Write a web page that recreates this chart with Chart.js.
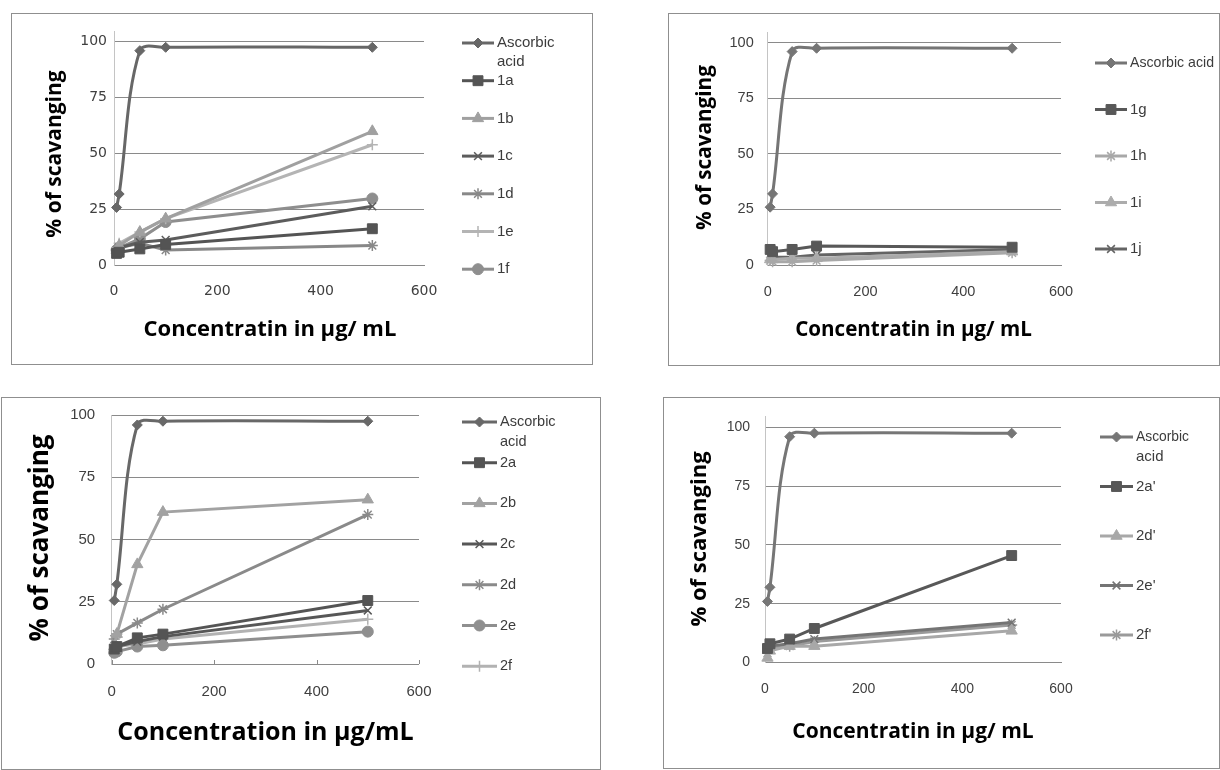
<!DOCTYPE html>
<html>
<head>
<meta charset="utf-8">
<title>% of scavanging</title>
<script src="https://cdn.jsdelivr.net/npm/chart.js@4.4.1/dist/chart.umd.min.js"></script>
<style>
  html, body { margin: 0; padding: 0; background: #fff; }
  body { width: 1220px; height: 770px; position: relative; overflow: hidden; }
  .frame { position: absolute; border: 1px solid #8f8f8f; box-sizing: border-box; }
  canvas.layer { position: absolute; left: 0; top: 0; }
</style>
</head>
<body>
<div class="frame" style="left:11px;top:13px;width:582px;height:352px"></div>
<div class="frame" style="left:668px;top:13px;width:552px;height:353px"></div>
<div class="frame" style="left:1px;top:397px;width:600px;height:373px"></div>
<div class="frame" style="left:663px;top:397px;width:557px;height:372px"></div>

<canvas class="layer" id="chart1" width="1220" height="770"></canvas>
<canvas class="layer" id="chart2" width="1220" height="770"></canvas>
<canvas class="layer" id="chart3" width="1220" height="770"></canvas>
<canvas class="layer" id="chart4" width="1220" height="770"></canvas>

<script>
// ----------------- Data ----------------
const concentrations = [5, 10, 50, 100, 500];
const yTickValues = [0, 25, 50, 75, 100];
const xTickValues = [0, 200, 400, 600];

// top-left
const names1 = ["Ascorbic acid", "1a", "1b", "1c", "1d", "1e", "1f"];
const ascorbic1 = [26, 32, 96, 97.5, 97.5];
const s1a = [5.5, 6, 7.5, 9.5, 16.5];
const s1b = [7, 9, 15, 21, 60];
const s1c = [6, 8, 10.5, 11.5, 26.5];
const s1d = [7, 8, 10, 7, 9];
const s1e = [8, 10, 15, 21, 54];
const s1f = [7, 8, 12, 19.5, 30];

// top-right
const names2 = ["Ascorbic acid", "1g", "1h", "1i", "1j"];
const ascorbic2 = [26, 32, 96, 97.5, 97.5];
const s1g = [7, 6, 7, 8.5, 8];
const s1h = [2, 1.5, 1.5, 2, 5.5];
const s1i = [2.5, 2.5, 3, 3, 6];
const s1j = [4, 3.5, 3.5, 4.5, 7];

// bottom-left
const names3 = ["Ascorbic acid", "2a", "2b", "2c", "2d", "2e", "2f"];
const ascorbic3 = [25.5, 32, 96, 97.5, 97.5];
const s2a = [6, 7, 10.5, 12, 25.5];
const s2b = [7, 12, 40, 61, 66];
const s2c = [6, 7, 9, 11, 21.5];
const s2d = [10, 12, 16.5, 22, 60];
const s2e = [4.5, 5, 7, 7.5, 13];
const s2f = [6, 7, 8, 10, 18];

// bottom-right
const names4 = ["Ascorbic acid", "2a'", "2d'", "2e'", "2f'"];
const ascorbic4 = [26, 32, 96, 97.5, 97.5];
const s2a_ = [6, 8, 10, 14.5, 45.5];
const s2d_ = [2, 5, 7, 7, 13.5];
const s2e_ = [6, 7, 8, 10, 17];
const s2f_ = [4, 6, 7, 9, 16];

// ----------------- Marker styles ----------------
const MARKERS = {
  diamond: { pointStyle: "rectRot", radius: 5, border: 1 },
  square: { pointStyle: "rect", radius: 7, border: 1 },
  triangle: { pointStyle: "triangle", radius: 6.5, border: 1 },
  x: { pointStyle: "crossRot", radius: 5.5, border: 1.5 },
  star: { pointStyle: "star", radius: 5.5, border: 1.5 },
  circle: { pointStyle: "circle", radius: 5.5, border: 1 },
  plus: { pointStyle: "cross", radius: 5.5, border: 1.5 }
};

function series(label, values, color, marker, tension) {
  const m = MARKERS[marker];
  return {
    label,
    data: concentrations.map((x, i) => ({ x, y: values[i] })),
    borderColor: color,
    backgroundColor: color,
    pointBackgroundColor: color,
    pointBorderColor: color,
    borderWidth: 3,
    pointStyle: m.pointStyle,
    pointRadius: m.radius,
    pointBorderWidth: m.border,
    tension: tension || 0,
    clip: false
  };
}

// ----------------- Plugins ----------------
// Excel-style legend at the right: line sample + marker + label
const sideLegend = {
  id: "sideLegend",
  afterDraw(chart, args, o) {
    const ctx = chart.ctx;
    ctx.save();
    ctx.textBaseline = "middle";
    ctx.textAlign = "left";
    chart.data.datasets.forEach((ds, i) => {
      const y = o.top + i * o.step;
      ctx.strokeStyle = ds.borderColor;
      ctx.lineWidth = 3;
      ctx.beginPath();
      ctx.moveTo(o.x0, y);
      ctx.lineTo(o.x1, y);
      ctx.stroke();
      ctx.fillStyle = ds.backgroundColor;
      ctx.lineWidth = ds.pointBorderWidth;
      Chart.helpers.drawPoint(ctx, {
        pointStyle: ds.pointStyle, radius: ds.pointRadius, rotation: 0, borderWidth: ds.pointBorderWidth
      }, (o.x0 + o.x1) / 2, y);
      ctx.font = o.font;
      ctx.fillStyle = "#3c3c3c";
      const lines = o.wrap ? ds.label.split(" ") : [ds.label];
      lines.forEach((t, k) => {
        if (o.maxWidth) ctx.fillText(t, o.tx, y + k * o.lineGap, o.maxWidth);
        else ctx.fillText(t, o.tx, y + k * o.lineGap);
      });
    });
    ctx.restore();
  }
};

const axisTitles = {
  id: "axisTitles",
  afterDraw(chart, args, o) {
    const ctx = chart.ctx;
    ctx.save();
    ctx.fillStyle = "#000";
    ctx.textAlign = "center";
    ctx.textBaseline = "middle";
    ctx.font = "bold " + o.xSize + "px 'Open Sans'";
    ctx.fillText(o.xText, o.xX, o.xY);
    ctx.translate(o.yX, o.yY);
    ctx.rotate(-Math.PI / 2);
    ctx.font = "bold " + o.ySize + "px 'Open Sans'";
    ctx.fillText(o.yText, 0, 0);
    ctx.restore();
  }
};

// small inside tick marks on the x axis (only bottom-left panel has them)
const innerTicks = {
  id: "innerTicks",
  afterDraw(chart, args, o) {
    if (!o.show) return;
    const ctx = chart.ctx, xs = chart.scales.x, bottom = chart.chartArea.bottom;
    ctx.save();
    ctx.strokeStyle = "#8a8a8a";
    ctx.lineWidth = 1;
    xTickValues.forEach((v) => {
      const px = Math.round(xs.getPixelForValue(v)) + 0.5;
      ctx.beginPath();
      ctx.moveTo(px, bottom - 4);
      ctx.lineTo(px, bottom);
      ctx.stroke();
    });
    ctx.restore();
  }
};

// ----------------- Panel builder ----------------
const EDGE = 10; // canvas margin kept outside the axis boxes

function makePanel(id, g, datasets) {
  const top = g.y0 - (g.y0 - g.y100) * g.yMax / 100;
  const tickFont = { family: g.tickFamily, size: g.tickSize };
  return new Chart(document.getElementById(id), {
    type: "line",
    data: { datasets },
    plugins: [sideLegend, axisTitles, innerTicks],
    options: {
      responsive: false,
      animation: false,
      devicePixelRatio: 1,
      layout: { padding: { left: EDGE, right: 1220 - g.right, top: top, bottom: EDGE } },
      plugins: {
        legend: { display: false },
        tooltip: { enabled: false },
        sideLegend: g.legend,
        axisTitles: g.titles,
        innerTicks: { show: !!g.innerTicks }
      },
      scales: {
        x: {
          type: "linear",
          min: 0,
          max: 600,
          afterFit: (s) => { s.height = 770 - EDGE - g.y0; },
          afterBuildTicks: (s) => { s.ticks = xTickValues.map((v) => ({ value: v })); },
          grid: { display: false, drawTicks: false },
          border: { display: true, color: "#8a8a8a", width: 1 },
          ticks: { padding: g.xPad, font: tickFont, color: "#3f3f3f", maxRotation: 0, autoSkip: false }
        },
        y: {
          min: 0,
          max: g.yMax,
          afterFit: (s) => { s.width = g.left - EDGE; },
          afterBuildTicks: (s) => { s.ticks = yTickValues.map((v) => ({ value: v })); },
          grid: { color: "#8a8a8a", drawTicks: false },
          border: { display: true, color: "#c4c4c4", width: 1 },
          ticks: { padding: g.yPad, font: tickFont, color: "#3f3f3f", autoSkip: false }
        }
      }
    }
  });
}

// ----------------- Render ----------------
makePanel("chart1", {
  left: 114, right: 424, y0: 265.7, y100: 41.7, yMax: 104.5,
  tickFamily: "DejaVu Sans", tickSize: 14, xPad: 17, yPad: 7,
  legend: { x0: 462, x1: 494, tx: 497, top: 43, step: 37.7, lineGap: 19, wrap: true,
            font: "15px 'Liberation Sans'" },
  titles: { xText: "Concentratin in \u00b5g/ mL", xX: 270, xY: 330, xSize: 22,
            yText: "% of scavanging", yX: 55, yY: 154, ySize: 21 }
}, [
  series(names1[0], ascorbic1, "#676767", "diamond", 0.35),
  series(names1[1], s1a, "#545454", "square"),
  series(names1[2], s1b, "#a0a0a0", "triangle"),
  series(names1[3], s1c, "#5c5c5c", "x"),
  series(names1[4], s1d, "#888888", "star"),
  series(names1[5], s1e, "#b4b4b4", "plus"),
  series(names1[6], s1f, "#8e8e8e", "circle")
]);

makePanel("chart2", {
  left: 767.7, right: 1061, y0: 265, y100: 42.7, yMax: 104.5,
  tickFamily: "Liberation Sans", tickSize: 14.5, xPad: 18, yPad: 14,
  legend: { x0: 1095, x1: 1127, tx: 1130, top: 63, step: 46.5, lineGap: 19, wrap: false,
            font: "15px 'Liberation Sans'", maxWidth: 84 },
  titles: { xText: "Concentratin in \u00b5g/ mL", xX: 913.5, xY: 330, xSize: 20.6,
            yText: "% of scavanging", yX: 705, yY: 147.5, ySize: 20.7 }
}, [
  series(names2[0], ascorbic2, "#757575", "diamond", 0.35),
  series(names2[1], s1g, "#585858", "square"),
  series(names2[2], s1h, "#a8a8a8", "star"),
  series(names2[3], s1i, "#acacac", "triangle"),
  series(names2[4], s1j, "#646464", "x")
]);

makePanel("chart3", {
  left: 111.7, right: 419, y0: 664, y100: 415, yMax: 100,
  tickFamily: "Liberation Sans", tickSize: 15, xPad: 19, yPad: 16.5, innerTicks: true,
  legend: { x0: 462, x1: 497, tx: 500, top: 422, step: 40.7, lineGap: 20, wrap: true,
            font: "14.5px 'Liberation Sans'" },
  titles: { xText: "Concentration in \u00b5g/mL", xX: 265.5, xY: 733, xSize: 25,
            yText: "% of scavanging", yX: 41, yY: 538, ySize: 26 }
}, [
  series(names3[0], ascorbic3, "#686868", "diamond", 0.35),
  series(names3[1], s2a, "#545454", "square"),
  series(names3[2], s2b, "#a2a2a2", "triangle"),
  series(names3[3], s2c, "#575757", "x"),
  series(names3[4], s2d, "#8a8a8a", "star"),
  series(names3[5], s2e, "#8f8f8f", "circle"),
  series(names3[6], s2f, "#b2b2b2", "plus")
]);

makePanel("chart4", {
  left: 765, right: 1061, y0: 662.6, y100: 427.3, yMax: 104.5,
  tickFamily: "Liberation Sans", tickSize: 14, xPad: 18.4, yPad: 15,
  legend: { x0: 1100, x1: 1133, tx: 1136, top: 437, step: 49.5, lineGap: 20, wrap: true,
            font: "15px 'Liberation Sans'", maxWidth: 53 },
  titles: { xText: "Concentratin in \u00b5g/ mL", xX: 913, xY: 732, xSize: 21,
            yText: "% of scavanging", yX: 700, yY: 539, ySize: 22 }
}, [
  series(names4[0], ascorbic4, "#767676", "diamond", 0.35),
  series(names4[1], s2a_, "#585858", "square"),
  series(names4[2], s2d_, "#a8a8a8", "triangle"),
  series(names4[3], s2e_, "#747474", "x"),
  series(names4[4], s2f_, "#9a9a9a", "star")
]);
</script>
</body>
</html>
